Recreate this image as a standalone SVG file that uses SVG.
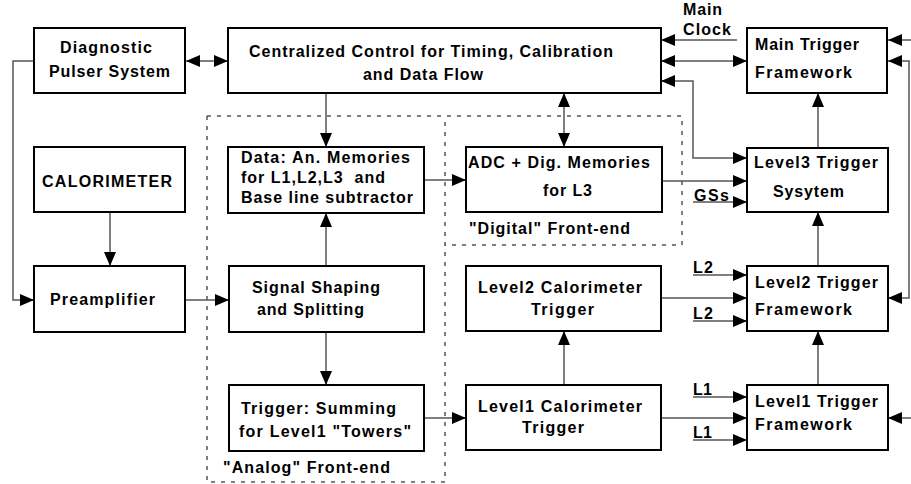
<svg xmlns="http://www.w3.org/2000/svg" width="911" height="484" viewBox="0 0 911 484">
  <style>
    .box { fill: #fff; stroke: #000; stroke-width: 2; }
    .frame { fill: none; stroke: #555; stroke-width: 1.5; stroke-dasharray: 4 6; }
    .wire { fill: none; stroke: #555; stroke-width: 1.5; }
    .one { marker-end: url(#head); }
    .two { marker-start: url(#head); marker-end: url(#head); }
    text { font-family: "Liberation Sans", Arial, sans-serif; font-weight: bold; font-size: 16px; fill: #000; white-space: pre; }
  </style>
  <defs>
    <marker id="head" markerUnits="userSpaceOnUse" markerWidth="15" markerHeight="13" refX="14" refY="6" orient="auto-start-reverse">
      <path d="M0,0 L14,6 L0,12 z" fill="#000"/>
    </marker>
  </defs>
  <rect width="911" height="484" fill="#fff"/>

  <!-- front-end regions -->
  <g id="frames">
    <path class="frame" d="M207,116 H682 V245 H445"/>
    <path class="frame" d="M207,116 V482 H445 V116"/>
  </g>

  <!-- connectors -->
  <g id="connectors">
    <line class="wire two" x1="186" y1="61" x2="228" y2="61"/>
    <path class="wire one" d="M34,61 H13 V300 H34"/>
    <line class="wire one" x1="110" y1="212" x2="110" y2="266"/>
    <line class="wire one" x1="185" y1="300" x2="229" y2="300"/>
    <line class="wire one" x1="326" y1="93" x2="326" y2="147"/>
    <line class="wire two" x1="564" y1="93" x2="564" y2="147"/>
    <line class="wire one" x1="424" y1="180" x2="466" y2="180"/>
    <line class="wire one" x1="326" y1="266" x2="326" y2="213"/>
    <line class="wire one" x1="326" y1="332" x2="326" y2="385"/>
    <line class="wire one" x1="424" y1="418" x2="466" y2="418"/>
    <line class="wire one" x1="564" y1="385" x2="564" y2="331"/>
    <line class="wire one" x1="661" y1="298" x2="747" y2="298"/>
    <line class="wire one" x1="661" y1="418" x2="747" y2="418"/>
    <line class="wire one" x1="818" y1="385" x2="818" y2="331"/>
    <line class="wire one" x1="818" y1="266" x2="818" y2="212"/>
    <line class="wire one" x1="818" y1="148" x2="818" y2="93"/>
    <line class="wire one" x1="662" y1="181" x2="747" y2="181"/>
    <line class="wire one" x1="693" y1="202" x2="747" y2="202"/>
    <line class="wire one" x1="737" y1="40" x2="661" y2="40"/>
    <line class="wire two" x1="661" y1="61" x2="747" y2="61"/>
    <path class="wire two" d="M661,81 H693 V158 H747"/>
    <line class="wire one" x1="911" y1="40" x2="888" y2="40"/>
    <path class="wire two" d="M888,61 H909 V298 H888"/>
    <line class="wire one" x1="911" y1="418" x2="888" y2="418"/>
    <line class="wire one" x1="693" y1="275" x2="747" y2="275"/>
    <line class="wire one" x1="693" y1="321" x2="747" y2="321"/>
    <line class="wire one" x1="693" y1="397" x2="747" y2="397"/>
    <line class="wire one" x1="693" y1="440" x2="747" y2="440"/>
  </g>

  <g id="diagnostic">
    <rect class="box" x="34" y="28" width="151" height="65"/>
    <text x="60" y="53" textLength="92" lengthAdjust="spacing">Diagnostic</text>
    <text x="49" y="77" textLength="121" lengthAdjust="spacing">Pulser System</text>
  </g>
  <g id="control">
    <rect class="box" x="228" y="28" width="433" height="65"/>
    <text x="249" y="57" textLength="364" lengthAdjust="spacing">Centralized Control for Timing, Calibration</text>
    <text x="363" y="80" textLength="120" lengthAdjust="spacing">and Data Flow</text>
  </g>
  <g id="main-trigger">
    <rect class="box" x="747" y="28" width="140" height="65"/>
    <text x="755" y="50" textLength="104" lengthAdjust="spacing">Main Trigger</text>
    <text x="755" y="78" textLength="97" lengthAdjust="spacing">Framework</text>
  </g>
  <g id="clock-label">
    <text x="683" y="15" textLength="39" lengthAdjust="spacing">Main</text>
    <text x="683" y="35" textLength="48" lengthAdjust="spacing">Clock</text>
  </g>
  <g id="calorimeter">
    <rect class="box" x="34" y="147" width="151" height="65"/>
    <text x="42" y="187" textLength="130" lengthAdjust="spacing">CALORIMETER</text>
  </g>
  <g id="preamplifier">
    <rect class="box" x="34" y="266" width="151" height="66"/>
    <text x="50" y="305" textLength="105" lengthAdjust="spacing">Preamplifier</text>
  </g>
  <g id="analog-memories">
    <rect class="box" x="228" y="147" width="196" height="66"/>
    <text x="241" y="163" textLength="169" lengthAdjust="spacing">Data: An. Memories</text>
    <text x="241" y="183" textLength="144" lengthAdjust="spacing">for L1,L2,L3  and</text>
    <text x="241" y="203" textLength="172" lengthAdjust="spacing">Base line subtractor</text>
  </g>
  <g id="adc">
    <rect class="box" x="466" y="147" width="196" height="65"/>
    <text x="468" y="168" textLength="182" lengthAdjust="spacing">ADC + Dig. Memories</text>
    <text x="543" y="196" textLength="49" lengthAdjust="spacing">for L3</text>
  </g>
  <text x="469" y="234" textLength="161" lengthAdjust="spacing">"Digital" Front-end</text>
  <g id="level3">
    <rect class="box" x="747" y="148" width="141" height="64"/>
    <text x="754" y="168" textLength="124" lengthAdjust="spacing">Level3 Trigger</text>
    <text x="773" y="197" textLength="71" lengthAdjust="spacing">Sysytem</text>
  </g>
  <text x="694" y="201" textLength="35" lengthAdjust="spacing">GSs</text>
  <g id="shaping">
    <rect class="box" x="229" y="266" width="195" height="66"/>
    <text x="252" y="293" textLength="128" lengthAdjust="spacing">Signal Shaping</text>
    <text x="257" y="315" textLength="107" lengthAdjust="spacing">and Splitting</text>
  </g>
  <g id="summing">
    <rect class="box" x="229" y="385" width="195" height="66"/>
    <text x="241" y="414" textLength="155" lengthAdjust="spacing">Trigger: Summing</text>
    <text x="239" y="437" textLength="172" lengthAdjust="spacing">for Level1 "Towers"</text>
  </g>
  <text x="223" y="473" textLength="167" lengthAdjust="spacing">"Analog" Front-end</text>
  <g id="level2-cal">
    <rect class="box" x="466" y="266" width="195" height="65"/>
    <text x="478" y="293" textLength="164" lengthAdjust="spacing">Level2 Calorimeter</text>
    <text x="531" y="315" textLength="63" lengthAdjust="spacing">Trigger</text>
  </g>
  <g id="level1-cal">
    <rect class="box" x="466" y="385" width="195" height="65"/>
    <text x="478" y="412" textLength="164" lengthAdjust="spacing">Level1 Calorimeter</text>
    <text x="522" y="433" textLength="62" lengthAdjust="spacing">Trigger</text>
  </g>
  <g id="level2-framework">
    <rect class="box" x="747" y="266" width="141" height="65"/>
    <text x="755" y="288" textLength="123" lengthAdjust="spacing">Level2 Trigger</text>
    <text x="755" y="315" textLength="97" lengthAdjust="spacing">Framework</text>
  </g>
  <g id="level1-framework">
    <rect class="box" x="747" y="385" width="141" height="65"/>
    <text x="755" y="407" textLength="123" lengthAdjust="spacing">Level1 Trigger</text>
    <text x="755" y="430" textLength="97" lengthAdjust="spacing">Framework</text>
  </g>
  <g id="level-inputs">
    <text x="693" y="273" textLength="20" lengthAdjust="spacing">L2</text>
    <text x="693" y="319" textLength="20" lengthAdjust="spacing">L2</text>
    <text x="693" y="395" textLength="19" lengthAdjust="spacing">L1</text>
    <text x="693" y="438" textLength="19" lengthAdjust="spacing">L1</text>
  </g>
</svg>
